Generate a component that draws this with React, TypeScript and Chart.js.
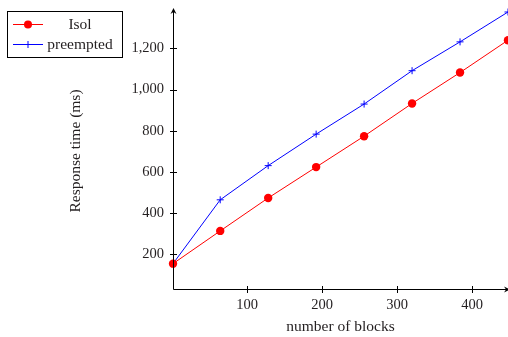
import React, { useEffect, useRef } from "react";
import { Chart, registerables } from "chart.js";

Chart.register(...registerables);

const blocks = [1, 64, 128, 192, 256, 320, 384, 448];
const isolValues = [155, 314, 474, 624, 774, 933, 1083, 1240];
const preemptedValues = [155, 465, 631, 784, 930, 1092, 1232, 1377];
const xTickValues = [100, 200, 300, 400];
const yTickValues = [200, 400, 600, 800, 1000, 1200];
const seriesNames = ["Isol", "preempted"];
const xTitle = "number of blocks";
const yTitle = "Response time (ms)";

const FONT = "'Liberation Serif', 'DejaVu Serif', serif";
const TEXT = "#231f20";

const decorPlugin = {
  id: "decor",
  afterDraw(chart: any) {
    const ctx = chart.ctx as CanvasRenderingContext2D;
    const ca = chart.chartArea;
    const xs = chart.scales.x;
    const ys = chart.scales.y;
    ctx.save();
    ctx.strokeStyle = "#000";
    ctx.fillStyle = "#000";
    ctx.lineWidth = 1;
    const ax = Math.round(ca.left) + 0.5;
    const ay = Math.round(ca.bottom) + 0.5;
    ctx.beginPath();
    ctx.moveTo(ax, ay);
    ctx.lineTo(ax, ca.top - 2);
    ctx.moveTo(ax, ay);
    ctx.lineTo(ca.right + 2, ay);
    ctx.stroke();
    // top arrow
    ctx.beginPath();
    ctx.moveTo(ax, ca.top - 4);
    ctx.lineTo(ax - 3, ca.top + 2);
    ctx.lineTo(ax, ca.top);
    ctx.lineTo(ax + 3, ca.top + 2);
    ctx.closePath();
    ctx.fill();
    // right arrow (mostly at canvas edge)
    ctx.beginPath();
    ctx.moveTo(ca.right + 2, ay);
    ctx.lineTo(ca.right - 4, ay - 3);
    ctx.lineTo(ca.right - 2, ay);
    ctx.lineTo(ca.right - 4, ay + 3);
    ctx.closePath();
    ctx.fill();
    ctx.beginPath();
    for (const v of yTickValues) {
      const py = Math.round(ys.getPixelForValue(v)) + 0.5;
      ctx.moveTo(ax - 3.5, py);
      ctx.lineTo(ax + 3.5, py);
    }
    for (const v of xTickValues) {
      const px = Math.round(xs.getPixelForValue(v)) + 0.5;
      ctx.moveTo(px, ay - 3.5);
      ctx.lineTo(px, ay + 3.5);
    }
    ctx.stroke();

    ctx.fillStyle = TEXT;
    ctx.font = `15.5px ${FONT}`;
    ctx.textAlign = "center";
    ctx.textBaseline = "middle";
    ctx.fillText(xTitle, (ca.left + ca.right) / 2, 327);
    ctx.save();
    ctx.translate(76, 151);
    ctx.rotate(-Math.PI / 2);
    ctx.fillText(yTitle, 0, 0);
    ctx.restore();

    ctx.strokeStyle = "#000";
    ctx.lineWidth = 1;
    ctx.strokeRect(7.5, 11.5, 115, 46);
    const rows = [
      { y: 24.5, color: "#ff0000", marker: "circle" },
      { y: 44.5, color: "#0000ff", marker: "cross" },
    ];
    rows.forEach((r, i) => {
      ctx.strokeStyle = r.color;
      ctx.fillStyle = r.color;
      ctx.beginPath();
      ctx.moveTo(13, r.y);
      ctx.lineTo(43, r.y);
      ctx.stroke();
      if (r.marker === "circle") {
        ctx.beginPath();
        ctx.arc(28, r.y, 4, 0, Math.PI * 2);
        ctx.fill();
      } else {
        ctx.beginPath();
        ctx.moveTo(28, r.y - 3.5);
        ctx.lineTo(28, r.y + 3.5);
        ctx.moveTo(24.5, r.y);
        ctx.lineTo(31.5, r.y);
        ctx.stroke();
      }
      ctx.fillStyle = TEXT;
      ctx.font = `15.5px ${FONT}`;
      ctx.textBaseline = "middle";
      ctx.textAlign = "center";
      ctx.fillText(seriesNames[i], 80, r.y);
    });
    ctx.restore();
  },
};

const zeroPad = (s: any) => {
  s.paddingLeft = 0;
  s.paddingRight = 0;
  s.paddingTop = 0;
  s.paddingBottom = 0;
};

export default function App() {
  const ref = useRef<HTMLCanvasElement | null>(null);
  useEffect(() => {
    if (!ref.current) return;
    const chart = new Chart(ref.current, {
      type: "line",
      data: {
        datasets: [
          {
            label: seriesNames[0],
            data: blocks.map((x, i) => ({ x, y: isolValues[i] })),
            borderColor: "#ff0000",
            backgroundColor: "#ff0000",
            borderWidth: 1,
            pointStyle: "circle",
            pointRadius: 4.2,
            pointBorderWidth: 0,
            clip: false as any,
          },
          {
            label: seriesNames[1],
            data: blocks.map((x, i) => ({ x, y: preemptedValues[i] })),
            borderColor: "#0000ff",
            backgroundColor: "#0000ff",
            borderWidth: 1,
            pointStyle: "cross",
            pointRadius: 3.5,
            pointBorderWidth: 1,
            clip: false as any,
          },
        ],
      },
      options: {
        responsive: false,
        animation: false,
        events: [],
        layout: { autoPadding: false, padding: { top: 12, left: 0, right: 0, bottom: 0 } },
        plugins: { legend: { display: false }, tooltip: { enabled: false } },
        scales: {
          x: {
            type: "linear",
            min: 1,
            max: 448,
            grid: { display: false, drawTicks: false },
            border: { display: false },
            afterBuildTicks: (s: any) => {
              s.ticks = xTickValues.map((v) => ({ value: v }));
            },
            afterFit: (s: any) => {
              s.height = 48;
              zeroPad(s);
            },
            ticks: {
              padding: 7,
              color: TEXT,
              font: { family: FONT, size: 14.5 },
              callback: (v: any) => String(v),
              maxRotation: 0,
            },
          },
          y: {
            type: "linear",
            min: 32,
            max: 1377,
            grid: { display: false, drawTicks: false },
            border: { display: false },
            afterBuildTicks: (s: any) => {
              s.ticks = yTickValues.map((v) => ({ value: v }));
            },
            afterFit: (s: any) => {
              s.width = 173;
              zeroPad(s);
            },
            ticks: {
              padding: 9,
              color: TEXT,
              font: { family: FONT, size: 14.5 },
              callback: (v: any) => Number(v).toLocaleString("en-US"),
            },
          },
        },
      },
      plugins: [decorPlugin],
    });
    return () => chart.destroy();
  }, []);
  return (
    <div style={{ position: "fixed", left: 0, top: 0, width: 508, height: 337, background: "#fff" }}>
      <canvas ref={ref} width={508} height={337} style={{ width: 508, height: 337, display: "block" }} />
    </div>
  );
}
